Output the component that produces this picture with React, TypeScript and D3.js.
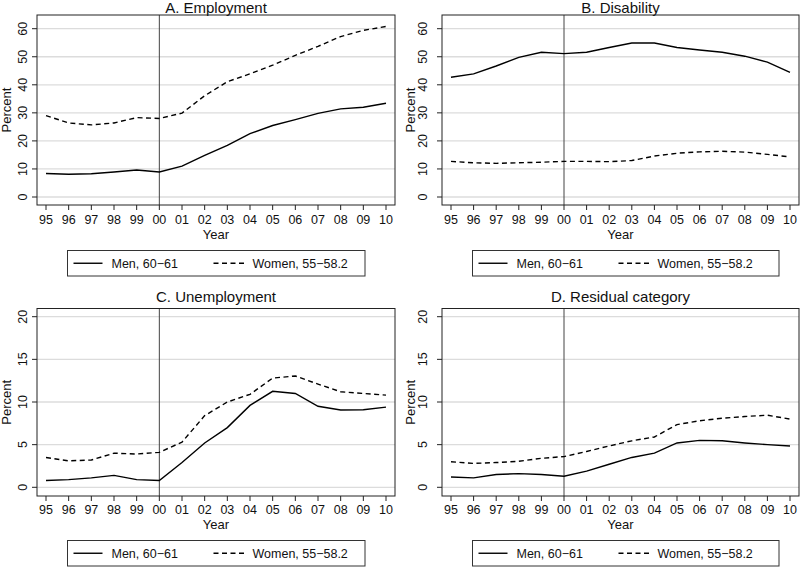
import React from 'react';
import { scaleLinear, line } from 'd3';

// x categories (two-digit years)
const years = ['95', '96', '97', '98', '99', '00', '01', '02', '03', '04', '05', '06', '07', '08', '09', '10'];

// A. Employment
const employmentMen = [8.4, 8.1, 8.3, 8.9, 9.6, 8.9, 11.0, 14.8, 18.4, 22.6, 25.5, 27.6, 29.8, 31.4, 32.0, 33.4];
const employmentWomen = [29.0, 26.4, 25.7, 26.4, 28.3, 28.0, 29.9, 36.1, 41.1, 43.9, 47.0, 50.5, 53.7, 57.2, 59.4, 60.8];

// B. Disability
const disabilityMen = [42.7, 43.9, 46.7, 49.8, 51.6, 51.1, 51.6, 53.3, 54.9, 54.9, 53.3, 52.4, 51.6, 50.2, 48.1, 44.4];
const disabilityWomen = [12.7, 12.2, 12.0, 12.2, 12.4, 12.7, 12.7, 12.6, 13.0, 14.6, 15.6, 16.1, 16.3, 16.0, 15.2, 14.3];

// C. Unemployment
const unemploymentMen = [0.8, 0.9, 1.1, 1.4, 0.9, 0.8, 2.9, 5.2, 7.0, 9.6, 11.25, 11.0, 9.5, 9.06, 9.1, 9.4];
const unemploymentWomen = [3.5, 3.1, 3.2, 4.0, 3.9, 4.1, 5.3, 8.4, 10.0, 10.9, 12.8, 13.05, 12.1, 11.2, 11.0, 10.8];

// D. Residual category
const residualMen = [1.2, 1.1, 1.5, 1.6, 1.5, 1.3, 1.9, 2.7, 3.5, 4.0, 5.2, 5.5, 5.45, 5.2, 5.0, 4.85];
const residualWomen = [3.0, 2.8, 2.9, 3.05, 3.4, 3.6, 4.2, 4.85, 5.45, 5.9, 7.35, 7.8, 8.1, 8.3, 8.45, 8.0];

const ticksHigh = [0, 10, 20, 30, 40, 50, 60];
const ticksLow = [0, 5, 10, 15, 20];
const legendLabels = ['Men, 60\u221261', 'Women, 55\u221258.2'];
const reformYear = '00';

const panels = [
  { title: 'A. Employment', men: employmentMen, women: employmentWomen, ticks: ticksHigh, col: 0, row: 0 },
  { title: 'B. Disability', men: disabilityMen, women: disabilityWomen, ticks: ticksHigh, col: 1, row: 0 },
  { title: 'C. Unemployment', men: unemploymentMen, women: unemploymentWomen, ticks: ticksLow, col: 0, row: 1 },
  { title: 'D. Residual category', men: residualMen, women: residualWomen, ticks: ticksLow, col: 1, row: 1 },
];

const cols = [
  { left: 37, right: 395, tickX: 27, labX: 11, legL: 67.5, legR: 365 },
  { left: 442, right: 799, tickX: 427, labX: 415, legL: 472.5, legR: 779 },
];
const rows = [
  { top: 15, bottom: 205, y0: 197, yTop: 28.7, titleY: 12.5, tickLabY: 223.5, yearY: 238.5, legT: 250.5, legB: 276 },
  { top: 308.5, bottom: 496, y0: 487.3, yTop: 316.7, titleY: 302, tickLabY: 513.5, yearY: 528.5, legT: 540.5, legB: 566 },
];

const font = '"Liberation Sans", Arial, Helvetica, sans-serif';
const ink = '#111';

function Panel({ p }: { p: (typeof panels)[number] }) {
  const c = cols[p.col];
  const r = rows[p.row];
  const x = scaleLinear().domain([0, years.length - 1]).range([c.left + 9, c.right - 9]);
  const y = scaleLinear().domain([0, p.ticks[p.ticks.length - 1]]).range([r.y0, r.yTop]);
  const path = line<number>().x((_, i) => x(i)).y(d => y(d));
  const midX = (c.left + c.right) / 2;
  const midY = (r.top + r.bottom) / 2;
  const legMid = (r.legT + r.legB) / 2;
  const reformX = x(years.indexOf(reformYear));

  return (
    <g>
      <text x={midX} y={r.titleY} textAnchor="middle" fontSize={15} fill={ink}>{p.title}</text>
      {/* gridlines */}
      {p.ticks.map(t => (
        <line key={'g' + t} x1={c.left} x2={c.right} y1={y(t)} y2={y(t)} stroke="#dcdcdc" strokeWidth={1.3} />
      ))}
      <line x1={reformX} x2={reformX} y1={r.top} y2={r.bottom} stroke="#444" strokeWidth={1} />
      <path d={path(p.women) ?? ''} fill="none" stroke="#000" strokeWidth={1.4} strokeDasharray="5,3.5" />
      <path d={path(p.men) ?? ''} fill="none" stroke="#000" strokeWidth={1.4} />
      <rect x={c.left} y={r.top} width={c.right - c.left} height={r.bottom - r.top} fill="none" stroke="#222" strokeWidth={1} />
      {/* y axis */}
      {p.ticks.map(t => (
        <g key={'y' + t}>
          <line x1={c.left - 5} x2={c.left} y1={y(t)} y2={y(t)} stroke="#222" />
          <text transform={`translate(${c.tickX},${y(t)}) rotate(-90)`} textAnchor="middle" fontSize={12.5} fill={ink}>{t}</text>
        </g>
      ))}
      <text transform={`translate(${c.labX},${midY}) rotate(-90)`} textAnchor="middle" fontSize={13} fill={ink}>Percent</text>
      {/* x axis */}
      {years.map((yr, i) => (
        <g key={'x' + yr}>
          <line x1={x(i)} x2={x(i)} y1={r.bottom} y2={r.bottom + 5} stroke="#222" />
          <text x={x(i)} y={r.tickLabY} textAnchor="middle" fontSize={12.5} fill={ink}>{yr}</text>
        </g>
      ))}
      <text x={midX} y={r.yearY} textAnchor="middle" fontSize={13} fill={ink}>Year</text>
      {/* legend */}
      <rect x={c.legL} y={r.legT} width={c.legR - c.legL} height={r.legB - r.legT} fill="#fff" stroke="#333" strokeWidth={1} />
      <line x1={c.legL + 6} x2={c.legL + 35} y1={legMid} y2={legMid} stroke="#000" strokeWidth={1.4} />
      <text x={c.legL + 44} y={legMid + 4.5} fontSize={12.5} fill={ink}>{legendLabels[0]}</text>
      <line x1={c.legL + 146} x2={c.legL + 180} y1={legMid} y2={legMid} stroke="#000" strokeWidth={1.4} strokeDasharray="5,3.5" />
      <text x={c.legL + 185} y={legMid + 4.5} fontSize={12.5} fill={ink}>{legendLabels[1]}</text>
    </g>
  );
}

export default function App() {
  return (
    <svg width={800} height={567} fontFamily={font} style={{ position: 'absolute', left: 0, top: 0, background: '#fff' }}>
      {panels.map(p => (
        <Panel key={p.title} p={p} />
      ))}
    </svg>
  );
}
